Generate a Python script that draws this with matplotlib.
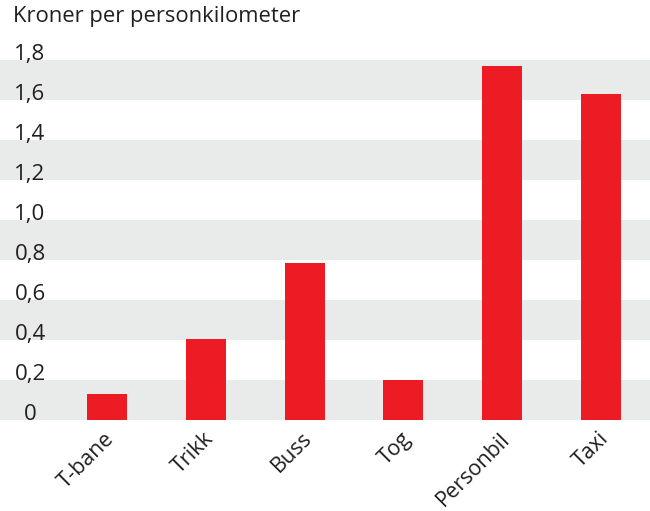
import matplotlib
matplotlib.use("Agg")
import matplotlib.pyplot as plt
import matplotlib.transforms as mtransforms

categories = ["T-bane", "Trikk", "Buss", "Tog", "Personbil", "Taxi"]
values = [0.13, 0.405, 0.785, 0.20, 1.77, 1.63]
yticks = [0, 0.2, 0.4, 0.6, 0.8, 1.0, 1.2, 1.4, 1.6, 1.8]
ytick_labels = ["0", "0,2", "0,4", "0,6", "0,8", "1,0", "1,2", "1,4", "1,6", "1,8"]
title = "Kroner per personkilometer"

RED = "#ed1c24"
GRAY = "#e9eaea"
FONT = ["Open Sans", "DejaVu Sans"]

fig = plt.figure(figsize=(6.5, 5.11), dpi=100)
ax = fig.add_axes([0, (511 - 420) / 511, 1, 360 / 511])
ax.set_xlim(-1.083, 5.496)
ax.set_ylim(0, 1.8)

for i in range(0, len(yticks) - 1, 2):
    ax.axhspan(yticks[i], yticks[i + 1], color=GRAY, lw=0, zorder=0)

x = list(range(len(categories)))
ax.bar(x, values, width=0.405, color=RED, zorder=2)

for s in ax.spines.values():
    s.set_visible(False)

ax.set_yticks(yticks)
ax.set_yticklabels(ytick_labels, fontsize=16, family=FONT, color="#231f20")
ax.tick_params(axis="y", length=0, pad=-21.6)
for lab in ax.get_yticklabels():
    lab.set_ha("center")
    lab.set_va("baseline")

ax.set_xticks(x)
ax.set_xticklabels(categories, rotation=45, fontsize=15.5, family=FONT, color="#231f20",
                   ha="right", va="top", rotation_mode="anchor")
ax.tick_params(axis="x", length=0, pad=6)
offset = mtransforms.ScaledTranslation(-3 / 100, 0, fig.dpi_scale_trans)
for lab in ax.get_xticklabels():
    lab.set_transform(lab.get_transform() + offset)

fig.text(13 / 650, 1 - 22 / 511, title, fontsize=15.8, family=FONT, color="#231f20",
         ha="left", va="baseline")

fig.savefig("out.png", dpi=100)
